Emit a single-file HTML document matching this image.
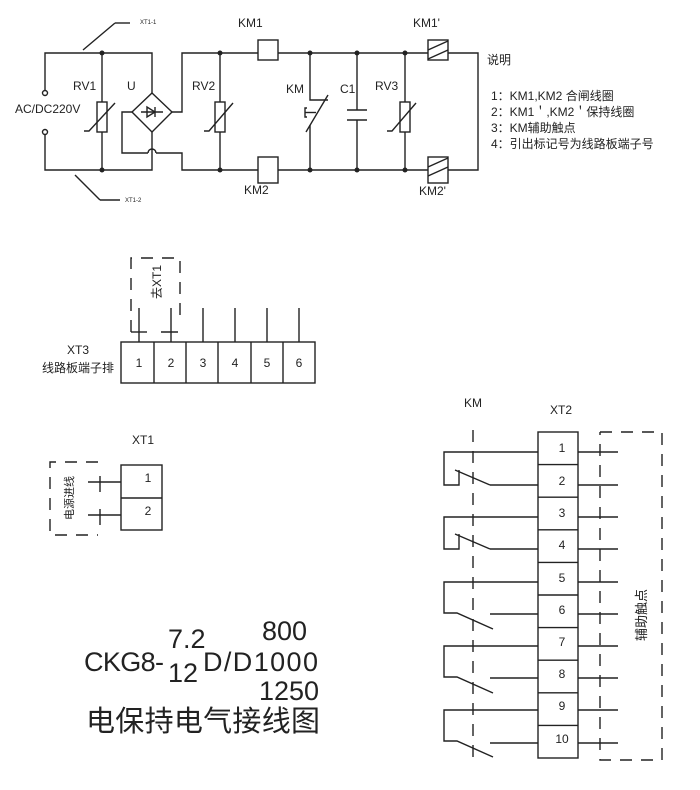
<!DOCTYPE html>
<html><head><meta charset="utf-8"><style>body{margin:0;background:#fff}svg{display:block}text{font-family:"Liberation Sans","Noto Sans CJK SC",sans-serif;fill:#222}</style></head><body>
<svg width="700" height="790" viewBox="0 0 700 790" xmlns="http://www.w3.org/2000/svg">
<g stroke="#222" stroke-width="1.4" fill="none">
<polyline points="45,90 45,53 152,53 152,93"/>
<polyline points="45,135 45,170 152,170 152,132"/>
<circle cx="45" cy="93" r="2.5" fill="#fff"/><circle cx="45" cy="132" r="2.5" fill="#fff"/>
<line x1="83" y1="50" x2="115" y2="23"/><line x1="115" y1="23" x2="130" y2="23"/>
<line x1="75" y1="175" x2="100" y2="200"/><line x1="100" y1="200" x2="120" y2="200"/>
<line x1="102" y1="53" x2="102" y2="102"/><line x1="102" y1="132" x2="102" y2="170"/>
<rect x="97" y="102" width="10" height="30"/><polyline points="84,131 89,131 115,103"/>
<polygon points="152,93 172,112 152,132 132,112"/>
<line x1="141" y1="112" x2="163" y2="112"/><polygon points="147,107 147,117 155,112"/><line x1="155" y1="107" x2="155" y2="117"/>
<polyline points="132,112 122,112 122,153 148,153"/><path d="M148,153 a4,4 0 0 1 8,0"/><polyline points="156,153 182,153 182,170 258,170"/>
<polyline points="172,112 182,112 182,53 258,53"/>
<rect x="258" y="40" width="20" height="20"/><rect x="258" y="157" width="20" height="26"/>
<line x1="278" y1="53" x2="428" y2="53"/><line x1="278" y1="170" x2="428" y2="170"/>
<rect x="428" y="40" width="20" height="20"/><line x1="428" y1="50" x2="448" y2="41"/><line x1="428" y1="59" x2="448" y2="50"/>
<rect x="428" y="157" width="20" height="26"/><line x1="428" y1="167" x2="448" y2="158"/><line x1="428" y1="176" x2="448" y2="167"/>
<polyline points="448,53 478,53 478,170 448,170"/>
<line x1="220" y1="53" x2="220" y2="102"/><line x1="220" y1="132" x2="220" y2="170"/>
<rect x="215" y="102" width="10" height="30"/><polyline points="204,131 209,131 233,103"/>
<polyline points="310,53 310,100 328,100"/><line x1="306" y1="132" x2="328" y2="95"/><line x1="310" y1="125" x2="310" y2="170"/>
<path d="M307,108 h-2 v9 h2" /><line x1="305" y1="112.5" x2="316" y2="112.5"/>
<line x1="357" y1="53" x2="357" y2="110"/><line x1="357" y1="120" x2="357" y2="170"/>
<line x1="347" y1="110" x2="367" y2="110"/><line x1="347" y1="120" x2="367" y2="120"/>
<line x1="405" y1="53" x2="405" y2="102"/><line x1="405" y1="132" x2="405" y2="170"/>
<rect x="400" y="102" width="10" height="30"/><polyline points="387,131 392,131 416,103"/>
</g>
<g fill="#222">
<circle cx="102" cy="53" r="2.5"/><circle cx="102" cy="170" r="2.5"/>
<circle cx="220" cy="53" r="2.5"/><circle cx="220" cy="170" r="2.5"/>
<circle cx="310" cy="53" r="2.5"/><circle cx="310" cy="170" r="2.5"/>
<circle cx="357" cy="53" r="2.5"/><circle cx="357" cy="170" r="2.5"/>
<circle cx="405" cy="53" r="2.5"/><circle cx="405" cy="170" r="2.5"/>
</g>
<g font-size="12">
<text x="238" y="27">KM1</text><text x="413" y="27">KM1'</text>
<text x="73" y="90">RV1</text><text x="127" y="90">U</text><text x="192" y="90">RV2</text>
<text x="286" y="93">KM</text><text x="340" y="93">C1</text><text x="375" y="90">RV3</text>
<text x="244" y="194">KM2</text><text x="419" y="195">KM2'</text>
<text x="15" y="113">AC/DC220V</text>
<text x="140" y="24" font-size="6">XT1-1</text><text x="125" y="202" font-size="6">XT1-2</text>
<text x="487" y="64">说明</text>
<text x="491" y="100">1：KM1,KM2 合闸线圈</text>
<text x="491" y="116">2：KM1＇,KM2＇保持线圈</text>
<text x="491" y="132">3：KM辅助触点</text>
<text x="491" y="148">4：引出标记号为线路板端子号</text>
</g>
<g stroke="#222" stroke-width="1.4" fill="none">
<rect x="121" y="342" width="194" height="41"/>
<line x1="154" y1="342" x2="154" y2="383"/><line x1="186" y1="342" x2="186" y2="383"/><line x1="218" y1="342" x2="218" y2="383"/><line x1="251" y1="342" x2="251" y2="383"/><line x1="283" y1="342" x2="283" y2="383"/>
<line x1="139" y1="308" x2="139" y2="342"/><line x1="171" y1="308" x2="171" y2="342"/><line x1="203" y1="308" x2="203" y2="342"/><line x1="235" y1="308" x2="235" y2="342"/><line x1="267" y1="308" x2="267" y2="342"/><line x1="299" y1="308" x2="299" y2="342"/>
<line x1="131" y1="332" x2="147" y2="332"/><line x1="161" y1="332" x2="178" y2="332"/>
<polyline points="131,332 131,258 180,258 180,322" stroke-dasharray="12,9"/>
<rect x="121" y="465" width="41" height="65"/><line x1="121" y1="498" x2="162" y2="498"/>
<line x1="88" y1="482" x2="121" y2="482"/><line x1="88" y1="515" x2="121" y2="515"/>
<line x1="100" y1="476" x2="100" y2="492"/><line x1="100" y1="509" x2="100" y2="525"/>
<polyline points="98,462 50,462 50,535 98,535" stroke-dasharray="12,9"/>
<rect x="538" y="432" width="40" height="326"/>
<line x1="538" y1="464.6" x2="578" y2="464.6"/><line x1="538" y1="497.2" x2="578" y2="497.2"/><line x1="538" y1="529.8" x2="578" y2="529.8"/><line x1="538" y1="562.4" x2="578" y2="562.4"/><line x1="538" y1="595" x2="578" y2="595"/><line x1="538" y1="627.6" x2="578" y2="627.6"/><line x1="538" y1="660.2" x2="578" y2="660.2"/><line x1="538" y1="692.8" x2="578" y2="692.8"/><line x1="538" y1="725.4" x2="578" y2="725.4"/>
<line x1="578" y1="452" x2="618" y2="452"/><line x1="578" y1="485" x2="618" y2="485"/><line x1="578" y1="517" x2="618" y2="517"/><line x1="578" y1="549" x2="618" y2="549"/><line x1="578" y1="582" x2="618" y2="582"/><line x1="578" y1="614" x2="618" y2="614"/><line x1="578" y1="646" x2="618" y2="646"/><line x1="578" y1="678" x2="618" y2="678"/><line x1="578" y1="710" x2="618" y2="710"/><line x1="578" y1="743" x2="618" y2="743"/>
<polyline points="600,432 662,432 662,760 600,760 600,432" stroke-dasharray="12,9"/>
<line x1="473" y1="430" x2="473" y2="760" stroke-dasharray="12,9"/>
<polyline points="538,452 444,452 444,485 459,485 459,470"/><line x1="455" y1="470" x2="490" y2="485"/><line x1="490" y1="485" x2="538" y2="485"/>
<polyline points="538,517 444,517 444,549 459,549 459,534"/><line x1="455" y1="534" x2="490" y2="549"/><line x1="490" y1="549" x2="538" y2="549"/>
<polyline points="538,582 444,582 444,613 457,613 493,629"/><line x1="490" y1="614" x2="538" y2="614"/>
<polyline points="538,646 444,646 444,677 457,677 493,693"/><line x1="490" y1="678" x2="538" y2="678"/>
<polyline points="538,710 444,710 444,741 457,741 493,757"/><line x1="490" y1="743" x2="538" y2="743"/>
</g>
<g font-size="12" text-anchor="middle">
<text x="139" y="367">1</text><text x="171" y="367">2</text><text x="203" y="367">3</text><text x="235" y="367">4</text><text x="267" y="367">5</text><text x="299" y="367">6</text>
<text x="148" y="482">1</text><text x="148" y="515">2</text>
<text x="562" y="452">1</text><text x="562" y="485">2</text><text x="562" y="517">3</text><text x="562" y="549">4</text><text x="562" y="582">5</text><text x="562" y="614">6</text><text x="562" y="646">7</text><text x="562" y="678">8</text><text x="562" y="710">9</text><text x="562" y="743">10</text>
<text x="78" y="354">XT3</text><text x="78" y="372" font-family="Liberation Serif,Noto Serif CJK SC,serif" fill="#555">线路板端子排</text>
<text x="143" y="444">XT1</text><text x="473" y="407">KM</text><text x="561" y="414">XT2</text>
</g>
<text transform="translate(161,282) rotate(-90)" font-size="12" text-anchor="middle" font-family="Liberation Serif,Noto Serif CJK SC,serif">去XT1</text>
<text transform="translate(73,498) rotate(-90)" font-size="11" text-anchor="middle" font-family="Liberation Serif,Noto Serif CJK SC,serif">电源进线</text>
<text transform="translate(646,615) rotate(-90)" font-size="13" text-anchor="middle">辅助触点</text>
<g font-size="27">
<text x="84" y="671" textLength="80">CKG8-</text>
<text x="168" y="648">7.2</text><text x="168" y="682">12</text>
<text x="203" y="671" textLength="115">D/D1000</text>
<text x="262" y="640">800</text><text x="259" y="700">1250</text>
<text x="86" y="731" font-size="29" textLength="234">电保持电气接线图</text>
</g>
</svg>
</body></html>
